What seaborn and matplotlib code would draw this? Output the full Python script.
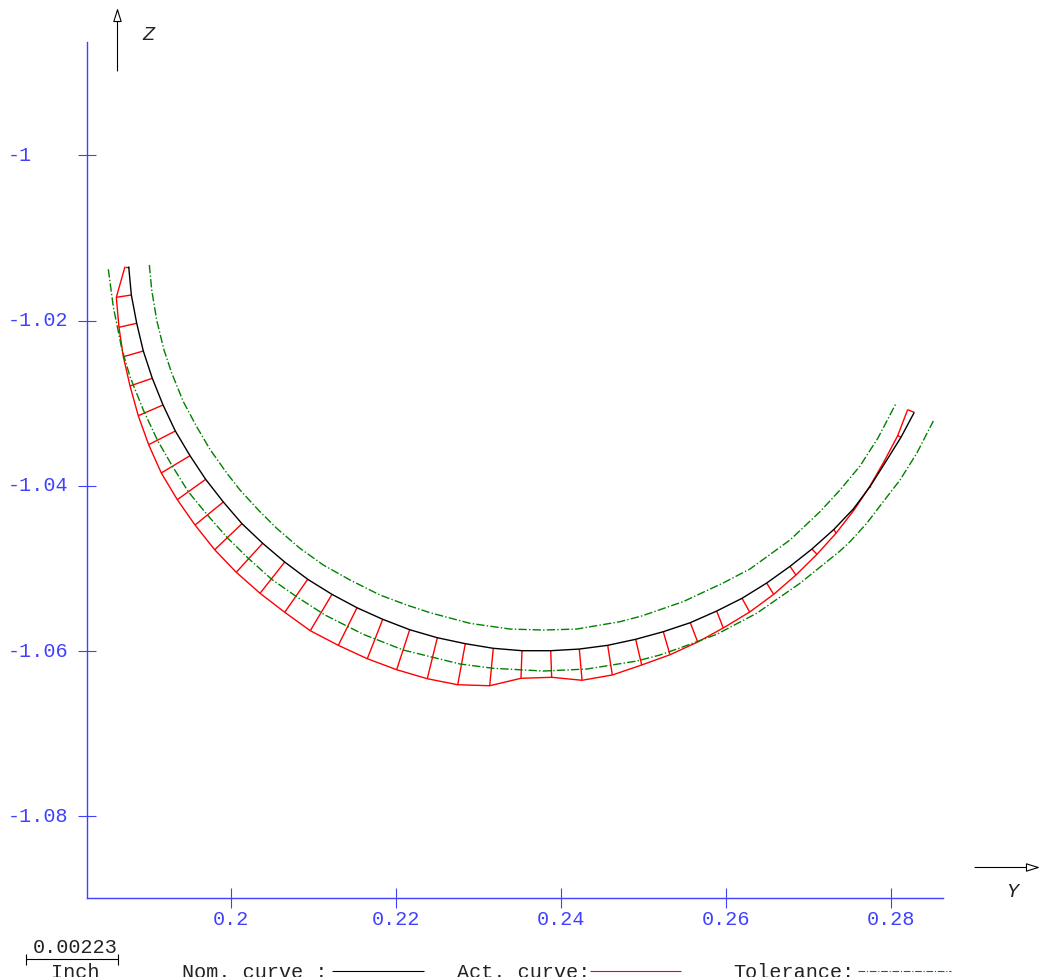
import numpy as np
import pandas as pd
import matplotlib.pyplot as plt
import seaborn as sns
from matplotlib.lines import Line2D
from matplotlib.transforms import ScaledTranslation

# nominal curve
nom_y = [0.18760, 0.18792, 0.18857, 0.18937, 0.19046, 0.19176, 0.19325, 0.19503, 0.19693, 0.19907,
         0.20133, 0.20384, 0.20651, 0.20930, 0.21224, 0.21527, 0.21839, 0.22166, 0.22501, 0.22840,
         0.23179, 0.23527, 0.23875, 0.24222, 0.24566, 0.24905, 0.25240, 0.25567, 0.25887, 0.26194,
         0.26493, 0.26776, 0.27042, 0.27309, 0.27543, 0.27745, 0.27936, 0.28121, 0.28282]
nom_z = [-1.01348, -1.01691, -1.02033, -1.02369, -1.02699, -1.03022, -1.03337, -1.03636, -1.03922, -1.04196,
         -1.04459, -1.04696, -1.04923, -1.05132, -1.05314, -1.05476, -1.05616, -1.05742, -1.05839, -1.05911,
         -1.05967, -1.05996, -1.05996, -1.05976, -1.05931, -1.05858, -1.05766, -1.05657, -1.05516, -1.05362,
         -1.05177, -1.04975, -1.04765, -1.04527, -1.04281, -1.04011, -1.03709, -1.03413, -1.03111]

# actual curve, same stations
act_y = [0.18715, 0.18610, 0.18642, 0.18695, 0.18776, 0.18876, 0.19002, 0.19155, 0.19349, 0.19564,
         0.19802, 0.20064, 0.20352, 0.20651, 0.20961, 0.21301, 0.21652, 0.22008, 0.22379, 0.22748,
         0.23136, 0.23515, 0.23887, 0.24255, 0.24622, 0.24978, 0.25321, 0.25657, 0.25967, 0.26287,
         0.26578, 0.26848, 0.27103, 0.27333, 0.27555, 0.27745, 0.27919, 0.28081, 0.28202]
act_z = [-1.01348, -1.01719, -1.02082, -1.02438, -1.02792, -1.03152, -1.03503, -1.03845, -1.04168, -1.04475,
         -1.04774, -1.05047, -1.05301, -1.05531, -1.05754, -1.05931, -1.06093, -1.06226, -1.06335, -1.06408,
         -1.06420, -1.06330, -1.06318, -1.06354, -1.06290, -1.06169, -1.06045, -1.05891, -1.05721, -1.05528,
         -1.05314, -1.05080, -1.04829, -1.04575, -1.04290, -1.04003, -1.03700, -1.03394, -1.03079]

# tolerance curves
tol_up_y = [0.19010, 0.19039, 0.19099, 0.19188, 0.19281, 0.19422, 0.19584, 0.19745, 0.19948, 0.20109, 0.20331,
            0.20554, 0.20836, 0.21119, 0.21442, 0.21806, 0.22130, 0.22412, 0.22897, 0.23382, 0.23782, 0.24190,
            0.24715, 0.24978, 0.25479, 0.25964, 0.26291, 0.26776, 0.27139, 0.27382, 0.27624, 0.27842, 0.28057]
tol_up_z = [-1.01328, -1.01630, -1.01994, -1.02357, -1.02635, -1.02982, -1.03285, -1.03559, -1.03845, -1.04051, -1.04293,
            -1.04515, -1.04757, -1.04959, -1.05140, -1.05322, -1.05443, -1.05536, -1.05665, -1.05734, -1.05746, -1.05734,
            -1.05645, -1.05576, -1.05403, -1.05177, -1.05007, -1.04656, -1.04314, -1.04051, -1.03761, -1.03422, -1.03010]
tol_lo_y = [0.18513, 0.18573, 0.18675, 0.18776, 0.18937, 0.19107, 0.19281, 0.19482, 0.19725, 0.19955, 0.20210,
            0.20493, 0.20796, 0.21139, 0.21604, 0.22089, 0.22776, 0.23179, 0.23786, 0.24312, 0.24918, 0.25200,
            0.25482, 0.25887, 0.26372, 0.26897, 0.27382, 0.27503, 0.27706, 0.27906, 0.28109, 0.28312, 0.28513]
tol_lo_z = [-1.01380, -1.01832, -1.02336, -1.02680, -1.03083, -1.03446, -1.03749, -1.04072, -1.04366, -1.04628, -1.04878,
            -1.05132, -1.05343, -1.05564, -1.05798, -1.05988, -1.06157, -1.06209, -1.06242, -1.06218, -1.06121, -1.06048,
            -1.05948, -1.05798, -1.05543, -1.05180, -1.04789, -1.04677, -1.04454, -1.04193, -1.03930, -1.03607, -1.03216]

y_ticks = [0.2, 0.22, 0.24, 0.26, 0.28]
y_tick_labels = ['0.2', '0.22', '0.24', '0.26', '0.28']
z_ticks = [-1, -1.02, -1.04, -1.06, -1.08]
z_tick_labels = ['-1', '-1.02', '-1.04', '-1.06', '-1.08']

BLUE = '#4040ff'
GREEN = '#008000'
RED = '#ff0000'
MONO = ['Liberation Mono', 'DejaVu Sans Mono']
TOL_DASH = (0, (6, 1.6, 1, 1.6))
W, H = 1040, 978


def px(x, y):
    """picture pixels to figure fractions"""
    return x / W, 1 - y / H


def fig_line(fig, x0, y0, x1, y1, **kw):
    a = px(x0, y0)
    b = px(x1, y1)
    fig.add_artist(Line2D([a[0], b[0]], [a[1], b[1]], transform=fig.transFigure, **kw))


sns.set_theme(style='white')
plt.rcParams['font.family'] = MONO
plt.rcParams['lines.solid_capstyle'] = 'butt'

fig = plt.figure(figsize=(W / 100, H / 100), dpi=100)
ax = fig.add_axes([87 / W, 1 - 899 / H, (943 - 87) / W, (899 - 43) / H])

# one row per end of a spoke between nominal and actual
spokes = pd.DataFrame({
    'station': list(range(len(nom_y))) * 2,
    'y': nom_y + act_y,
    'z': nom_z + act_z,
})
sns.lineplot(data=spokes, x='y', y='z', units='station', estimator=None, sort=False,
             color=RED, lw=1.0, ax=ax)
sns.lineplot(x=np.array(act_y), y=np.array(act_z), sort=False, estimator=None, color=RED, lw=1.0, ax=ax)
sns.lineplot(x=np.array(nom_y), y=np.array(nom_z), sort=False, estimator=None, color='black', lw=1.0, ax=ax)
for ty, tz in [(tol_up_y, tol_up_z), (tol_lo_y, tol_lo_z)]:
    sns.lineplot(x=np.array(ty), y=np.array(tz), sort=False, estimator=None, color=GREEN, lw=1.0,
                 linestyle=TOL_DASH, ax=ax)

ax.set_xlim(0.182545, 0.286303)
ax.set_ylim(-1.08989, -0.98629)
ax.set_xlabel('')
ax.set_ylabel('')
sns.despine(ax=ax)
ax.patch.set_alpha(0)
for side in ['left', 'bottom']:
    ax.spines[side].set_color(BLUE)
    ax.spines[side].set_linewidth(1.0)

ax.set_xticks(y_ticks)
ax.set_xticklabels(y_tick_labels)
ax.set_yticks(z_ticks)
ax.set_yticklabels(z_tick_labels, ha='left')
ax.tick_params(axis='x', direction='inout', length=14, width=0.8, color=BLUE, labelcolor=BLUE,
               labelsize=14.5, pad=1.1, bottom=True)
ax.tick_params(axis='y', direction='inout', length=13, width=0.8, color=BLUE, labelcolor=BLUE,
               labelsize=14.5, pad=50.4, left=True)
for label in ax.get_yticklabels():
    label.set_transform(label.get_transform() + ScaledTranslation(0, 3 / 100, fig.dpi_scale_trans))

# direction arrows
ax.annotate('', xy=(117.5, H - 9), xytext=(117.5, H - 72), xycoords='figure pixels', textcoords='figure pixels',
            arrowprops=dict(arrowstyle='-|>,head_length=0.7,head_width=0.22', color='black', fc='white',
                            lw=0.8, shrinkA=0, shrinkB=0))
ax.annotate('', xy=(1040, H - 868.5), xytext=(975, H - 868.5), xycoords='figure pixels', textcoords='figure pixels',
            arrowprops=dict(arrowstyle='-|>,head_length=0.7,head_width=0.22', color='black', fc='white',
                            lw=0.8, shrinkA=0, shrinkB=0))
fig.text(*px(148, 35), 'Z', style='italic', fontsize=14.5, color='#222222', ha='center', va='center')
fig.text(*px(1012, 892), 'Y', style='italic', fontsize=14.5, color='#222222', ha='center', va='center')

# scale bar
fig_line(fig, 26, 960, 118, 960, color='black', lw=0.8)
fig_line(fig, 26, 955, 26, 966, color='black', lw=0.8)
fig_line(fig, 118, 955, 118, 966, color='black', lw=0.8)
fig.text(*px(75, 948), '0.00223', fontsize=14.5, color='#222222', ha='center', va='center')
fig.text(*px(75, 973), 'Inch', fontsize=14.5, color='#222222', ha='center', va='center')

# legend row along the bottom edge
fig.text(*px(182, 973), 'Nom. curve :', fontsize=14.5, color='#222222', ha='left', va='center')
fig_line(fig, 332, 972, 424, 972, color='black', lw=0.8)
fig.text(*px(457, 973), 'Act. curve:', fontsize=14.5, color='#222222', ha='left', va='center')
fig_line(fig, 590, 972, 681, 972, color=RED, lw=0.8)
fig.text(*px(733, 973), 'Tolerance:', fontsize=14.5, color='#222222', ha='left', va='center')
fig_line(fig, 858, 972, 951, 972, color=GREEN, lw=0.8, linestyle=TOL_DASH)

fig.savefig('out.png', dpi=100)
